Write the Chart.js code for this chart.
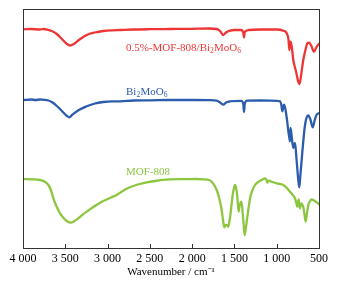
<!DOCTYPE html>
<html>
<head>
<meta charset="utf-8">
<script src="https://cdn.jsdelivr.net/npm/chart.js@4/dist/chart.umd.min.js"></script>
<style>
html,body{margin:0;padding:0;background:#fff;}
#wrap{width:340px;height:285px;position:relative;}
</style>
</head>
<body>
<div id="wrap"><canvas id="c" width="340" height="285"></canvas></div>
<script>
// Wavenumbers (cm^-1) and transmittance (a.u., offset) for each sample
const redWn = [4000,3900,3800,3760,3700,3660,3600,3540,3480,3444,3400,3340,3247,3150,3050,2950,2853,2700,2500,2262,2000,1800,1710,1670,1631,1600,1553,1500,1420,1395,1387,1378,1331,1200,1000,922,882,860,851,843,835,820,804,770,745,733,720,700,686,660,638,615,590,559,530,496];
const redT  = [218.7,219,218.5,219,218,217,214,209,204,202.5,204,208,213,215.5,217,217.7,218,218.5,218.8,219,219.2,219.5,219,217,213,215.5,217.3,218,218,215,210.7,216,218,218.5,218.5,217.3,214.7,208,198,205,206.3,200,188,176,166,164,168,180,188,198,204.7,205.3,202,196.3,201,204.7];

const blueWn = [4000,3900,3850,3800,3760,3700,3660,3600,3540,3480,3452,3420,3340,3247,3150,3051,2950,2853,2700,2500,2262,2000,1800,1710,1670,1631,1600,1553,1420,1395,1387,1378,1350,1200,1000,961,945,934,914,900,890,875,863,850,843,837,825,804,784,765,745,733,720,693,670,654,627,600,575,550,528,496];
const blueT  = [148,148.5,148,148.5,148.2,147.5,146,142,137,132,130.7,133,138,141.7,144.5,146,146.7,146.7,147.5,147.7,148,148,147.8,147.3,145.5,143.3,145.5,146.7,147.2,144,136,144,147.3,147.5,147.2,146.7,143,136.7,143.3,140,135,126,117,110,106.7,120,113,100,105,88,68,60.7,73,100,120,128.3,132.7,128,120.7,128,133.3,135];

const greenWn = [4000,3900,3799,3740,3700,3670,3641,3600,3562,3520,3483,3436,3400,3346,3300,3247,3150,3051,2960,2892,2853,2780,2696,2620,2537,2400,2262,2100,1950,1868,1800,1769,1740,1710,1680,1651,1635,1620,1605,1592,1573,1560,1545,1521,1505,1494,1480,1466,1450,1440,1430,1418,1402,1390,1379,1365,1347,1315,1290,1257,1220,1178,1139,1120,1111,1100,1091,1050,1000,960,922,880,843,810,784,768,757,741,733,725,715,705,696,686,672,658,645,627,605,587,560,536,515,496];
const greenT  = [69,68.7,68,66.3,63,58,49.7,41,34.7,30,27,25.3,26.5,29.7,33,36.3,42,47,50.5,53,55.3,59,62,64,65.7,67.5,68.7,68.8,69,68.7,68,66.3,63,58,50,38,28,20.7,23,23,21.3,26,35,53,60,63,60,51.3,36.3,42,44.7,46.3,34.7,22,13,20,31.3,49.7,57,63,66,68,69.7,68,65.3,67,67.3,66,64.7,64,63,60,56.3,53,49.7,45,41.3,48.7,44,39.7,43,44.7,43,41.3,34,26.3,33,43,47,48.7,47.5,46.3,45,43];

const xTicks = [4000,3500,3000,2500,2000,1500,1000,500];
const seriesNames = ['0.5%-MOF-808/Bi2MoO6','Bi2MoO6','MOF-808'];
// label anchors (wavenumber, transmittance)
const labelWn = [2782,2782,2782];
const labelT  = [200,156,76];

const colors = ['#ee3535','#2b5cae','#8cc63f'];
const serif = '"Liberation Serif","Times New Roman",serif';

function pts(xs, ys){ return xs.map((x,i)=>({x:x,y:ys[i]})); }

const frame = {
  id:'frame',
  afterDraw(chart){
    const {ctx, chartArea:a, scales} = chart;
    ctx.save();
    ctx.strokeStyle = '#333';
    ctx.lineWidth = 1;
    ctx.strokeRect(a.left+0.5, a.top+0.5, a.right-a.left, a.bottom-a.top);
    ctx.beginPath();
    xTicks.forEach(t=>{
      const px = Math.round(scales.x.getPixelForValue(t))+0.5;
      ctx.moveTo(px, a.bottom); ctx.lineTo(px, a.bottom-4);
    });
    ctx.stroke();
    // series labels with subscripts
    ctx.textBaseline = 'middle';
    ctx.textAlign = 'left';
    seriesNames.forEach((name,i)=>{
      let x = scales.x.getPixelForValue(labelWn[i]);
      const y = scales.y.getPixelForValue(labelT[i]);
      ctx.fillStyle = colors[i];
      const parts = name.split(/(Bi2MoO6)/);
      parts.forEach(p=>{
        if(p==='Bi2MoO6'){
          [['Bi',0],['2',1],['MoO',0],['6',1]].forEach(([s,sub])=>{
            ctx.font = (sub? '7.5px ':'11px ')+serif;
            ctx.fillText(s, x, y + (sub?3:0));
            x += ctx.measureText(s).width + (sub?0.3:0);
          });
        } else if(p){
          ctx.font = '11px '+serif;
          ctx.fillText(p, x, y);
          x += ctx.measureText(p).width;
        }
      });
    });
    ctx.restore();
  }
};

new Chart(document.getElementById('c'), {
  type:'line',
  data:{
    datasets:[
      {data:pts(redWn,redT), borderColor:colors[0]},
      {data:pts(blueWn,blueT), borderColor:colors[1]},
      {data:pts(greenWn,greenT), borderColor:colors[2]}
    ].map(d=>Object.assign(d,{borderWidth:2.3,pointRadius:0,tension:0.3,fill:false,cubicInterpolationMode:'monotone'}))
  },
  options:{
    responsive:false,
    animation:false,
    events:[],
    layout:{padding:{left:0,top:9,right:21,bottom:0}},
    plugins:{legend:{display:false},tooltip:{enabled:false}},
    scales:{
      x:{
        type:'linear', reverse:true, min:500, max:4000,
        afterBuildTicks(s){ s.ticks = xTicks.map(v=>({value:v})); },
        afterFit(s){ s.height = 37; },
        grid:{display:false, drawTicks:false},
        border:{display:false},
        ticks:{
          color:'#000', padding:4, maxRotation:0, autoSkip:false,
          font:{family:serif, size:12},
          callback:v=> v>=1000 ? Math.floor(v/1000)+' '+String(v%1000).padStart(3,'0') : String(v)
        },
        title:{display:true, text:'Wavenumber / cm\u207B\u00B9', color:'#000',
          font:{family:serif, size:11}, padding:{top:0,bottom:6}}
      },
      y:{
        min:0, max:239,
        afterFit(s){ s.width = 23; },
        grid:{display:false, drawTicks:false},
        border:{display:false},
        ticks:{display:false}
      }
    }
  },
  plugins:[frame]
});
</script>
</body>
</html>
